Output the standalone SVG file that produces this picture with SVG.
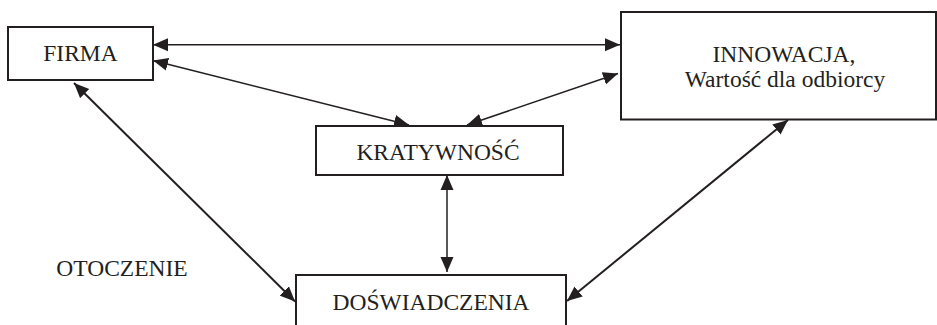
<svg xmlns="http://www.w3.org/2000/svg" width="937" height="325" viewBox="0 0 937 325">
<style>
.box{fill:#fff;stroke:#231f20;stroke-width:2}
.lbl{font-family:"Liberation Serif","Times New Roman",serif;font-size:23.5px;fill:#231f20;text-anchor:middle}
.c{fill:none;stroke:#231f20;stroke-width:1.5;marker-start:url(#ah);marker-end:url(#ah)}
.t{stroke-width:2}
</style>
<defs>
<marker id="ah" markerUnits="userSpaceOnUse" markerWidth="16" markerHeight="14" viewBox="0 0 16 14" refX="15" refY="7" orient="auto-start-reverse">
<path d="M0,0.5 L15,7 L0,13.5 Z" fill="#231f20"/>
</marker>
</defs>
<rect width="937" height="325" fill="#fff"/>
<g id="connectors">
<line class="c" x1="153" y1="44.7" x2="620" y2="44.7"/>
<line class="c" x1="153" y1="60.5" x2="409" y2="125"/>
<line class="c" x1="618" y1="73.5" x2="467" y2="125"/>
<line class="c t" x1="74" y1="83" x2="295" y2="301.5"/>
<line class="c" x1="447" y1="175" x2="447" y2="272"/>
<line class="c t" x1="788" y1="120" x2="567" y2="301"/>
</g>
<g id="firma">
<rect class="box" x="8" y="27" width="145" height="53"/>
<text class="lbl" x="80.5" y="61">FIRMA</text>
</g>
<g id="innowacja">
<rect class="box" x="621" y="12" width="315" height="107.5"/>
<text class="lbl" x="784" y="61.5">INNOWACJA,</text>
<text class="lbl" x="785" y="87">Wartość dla odbiorcy</text>
</g>
<g id="kratywnosc">
<rect class="box" x="316" y="126" width="247" height="49"/>
<text class="lbl" x="438" y="160">KRATYWNOŚĆ</text>
</g>
<g id="doswiadczenia">
<rect class="box" x="296" y="275" width="270" height="60"/>
<text class="lbl" x="431" y="309.5">DOŚWIADCZENIA</text>
</g>
<g id="otoczenie">
<text class="lbl" x="122" y="276">OTOCZENIE</text>
</g>
</svg>
